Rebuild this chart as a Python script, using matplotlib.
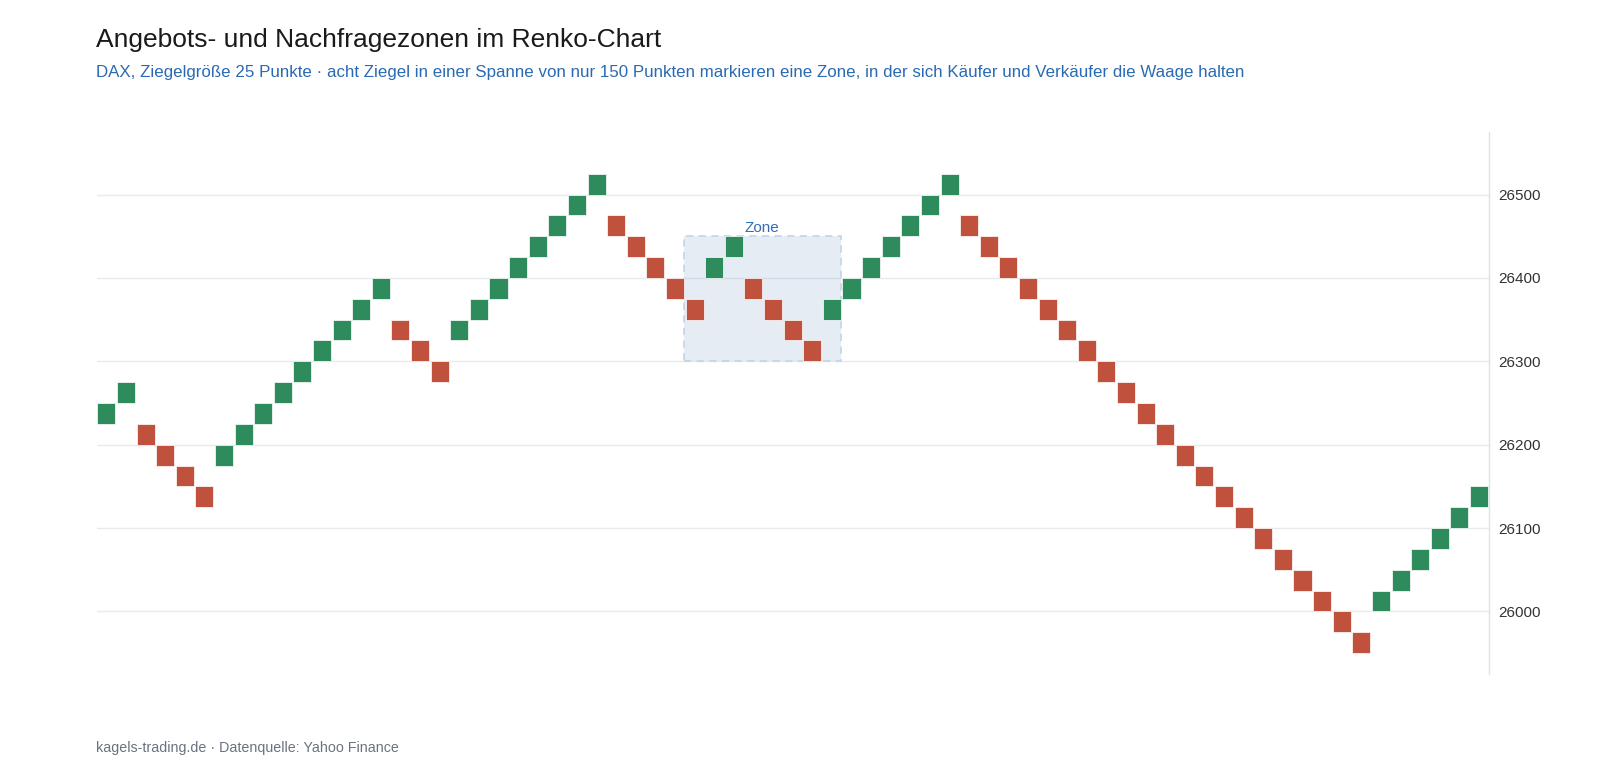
import numpy as np
import matplotlib
matplotlib.use('Agg')
import matplotlib.pyplot as plt
from matplotlib.patches import Rectangle

plt.rcParams['font.family'] = ['Liberation Sans', 'DejaVu Sans']

# Renko-Ziegel: Unterkante jedes Ziegels und Richtung (u = steigend, d = fallend)
brick_size = 25
brick_low = [26225, 26250, 26200, 26175, 26150, 26125,
             26175, 26200, 26225, 26250, 26275, 26300, 26325, 26350, 26375,
             26325, 26300, 26275,
             26325, 26350, 26375, 26400, 26425, 26450, 26475, 26500,
             26450, 26425, 26400, 26375, 26350,
             26400, 26425,
             26375, 26350, 26325, 26300,
             26350, 26375, 26400, 26425, 26450, 26475, 26500,
             26450, 26425, 26400, 26375, 26350, 26325, 26300, 26275, 26250, 26225,
             26200, 26175, 26150, 26125, 26100, 26075, 26050, 26025, 26000, 25975, 25950,
             26000, 26025, 26050, 26075, 26100, 26125]
brick_dir = (['u'] * 2 + ['d'] * 4 + ['u'] * 9 + ['d'] * 3 + ['u'] * 8 + ['d'] * 5
             + ['u'] * 2 + ['d'] * 4 + ['u'] * 7 + ['d'] * 21 + ['u'] * 6)

zone_low, zone_high = 26300, 26450
zone_first, zone_last = 30, 37
y_ticks = [26000, 26100, 26200, 26300, 26400, 26500]

green = '#2e8b5c'
red = '#c0513c'

fig = plt.figure(figsize=(16, 7.74), dpi=100)
ax = fig.add_axes([96.5 / 1600, 1 - 674 / 774, (1488.8 - 96.5) / 1600, (674 - 132) / 774])

x = np.arange(len(brick_low))
colors = [green if d == 'u' else red for d in brick_dir]

# Zone
ax.add_patch(Rectangle((zone_first - 0.55, zone_low), zone_last - zone_first + 1.0, zone_high - zone_low,
                       facecolor='#3a72b0', alpha=0.13, edgecolor='none', zorder=1))
ax.add_patch(Rectangle((zone_first - 0.55, zone_low), zone_last - zone_first + 1.0, zone_high - zone_low,
                       facecolor='none', edgecolor='#c6d6e9', linewidth=1.3,
                       linestyle=(0, (4, 3)), zorder=1.5))
ax.annotate('Zone', xy=((zone_first + zone_last) / 2 - 0.05, zone_high), xytext=(0, 3),
            textcoords='offset points', ha='center', va='baseline',
            fontsize=11, color='#2f6db5', zorder=4)

ax.bar(x, brick_size, bottom=brick_low, width=0.92, color=colors,
       edgecolor='white', linewidth=0.5, zorder=3)

ax.set_xlim(-0.5, len(brick_low) - 0.5)
ax.set_ylim(25925, 26575)
ax.set_xticks([])
ax.set_yticks(y_ticks)
ax.yaxis.tick_right()
ax.tick_params(axis='y', length=0, pad=7, labelsize=11, labelcolor='#333333')
ax.grid(axis='y', color='#e8eaee', linewidth=1, zorder=0)
ax.set_axisbelow(True)
for s in ['top', 'left', 'bottom']:
    ax.spines[s].set_visible(False)
ax.spines['right'].set_color('#dde3ea')
ax.spines['right'].set_linewidth(1)

fig.text(96.5 / 1600, 1 - 47 / 774, 'Angebots- und Nachfragezonen im Renko-Chart',
         fontsize=19, color='#1a1a1a', va='baseline')
fig.text(96.5 / 1600, 1 - 77.5 / 774,
         'DAX, Ziegelgröße 25 Punkte · acht Ziegel in einer Spanne von nur 150 Punkten markieren eine Zone, '
         'in der sich Käufer und Verkäufer die Waage halten',
         fontsize=12.2, color='#2a6ab3', va='baseline')
fig.text(96.5 / 1600, 1 - 752 / 774, 'kagels-trading.de · Datenquelle: Yahoo Finance',
         fontsize=10.3, color='#6b7280', va='baseline')

fig.savefig('out.png', dpi=100)
